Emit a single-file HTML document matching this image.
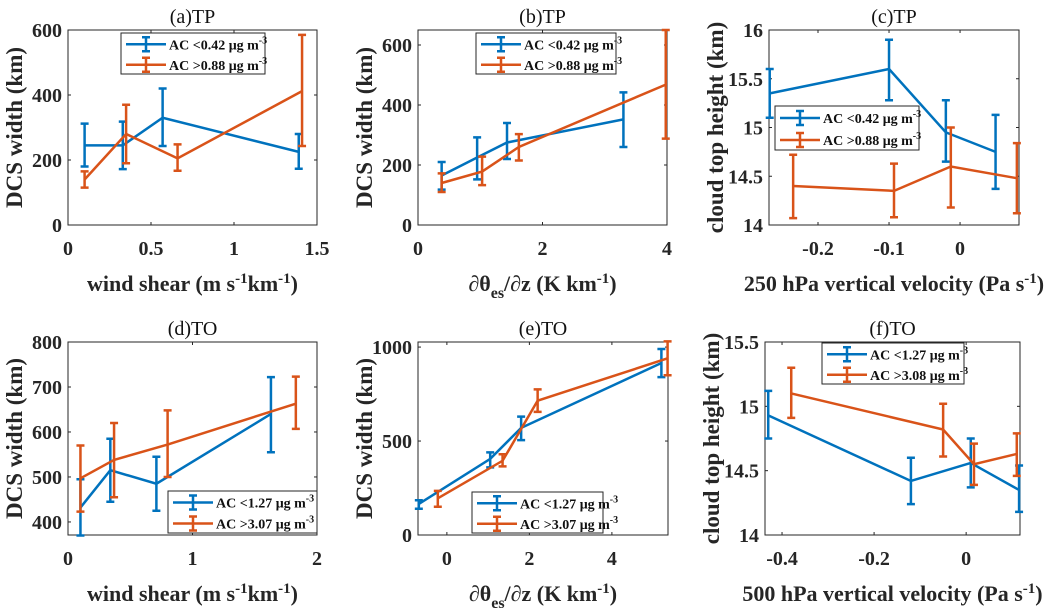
<!DOCTYPE html>
<html><head><meta charset="utf-8"><style>
body{margin:0;background:#fff;}
svg{display:block;}
text{font-family:"Liberation Serif","DejaVu Serif",serif;}
</style></head><body>
<svg id="fig" width="1056" height="616" viewBox="0 0 1056 616" font-family="Liberation Serif, serif"></svg>
<script>
// (a)
const aBx=[0.1,0.33,0.57,1.39], aBy=[245,245,330,225], aBlo=[180,172,243,173], aBhi=[312,318,420,280];
const aOx=[0.1,0.35,0.66,1.41], aOy=[140,280,205,412], aOlo=[115,190,167,243], aOhi=[165,370,248,585];
const aXt=[0,0.5,1,1.5], aYt=[0,200,400,600];
// (b)
const bBx=[0.38,0.95,1.43,3.3], bBy=[165,225,275,352], bBlo=[118,152,220,260], bBhi=[210,292,340,442];
const bOx=[0.38,1.03,1.62,3.98], bOy=[140,178,260,468], bOlo=[110,133,215,288], bOhi=[172,228,303,650];
const bXt=[0,2,4], bYt=[0,200,400,600];
// (c)
const cBx=[-0.268,-0.1,-0.02,0.05], cBy=[15.35,15.6,14.95,14.75], cBlo=[15.1,15.28,14.65,14.37], cBhi=[15.6,15.9,15.28,15.13];
const cOx=[-0.235,-0.093,-0.013,0.08], cOy=[14.4,14.35,14.6,14.48], cOlo=[14.07,14.08,14.18,14.12], cOhi=[14.72,14.63,15.0,14.84];
const cXt=[-0.2,-0.1,0], cYt=[14,14.5,15,15.5,16];
// (d)
const dBx=[0.1,0.34,0.71,1.63], dBy=[432,515,485,640], dBlo=[370,445,425,555], dBhi=[495,585,545,722];
const dOx=[0.1,0.37,0.8,1.83], dOy=[497,538,572,663], dOlo=[423,455,500,607], dOhi=[570,620,648,723];
const dXt=[0,1,2], dYt=[400,500,600,700,800];
// (e)
const eBx=[-0.68,1.05,1.8,5.2], eBy=[165,405,570,915], eBlo=[140,360,505,840], eBhi=[185,440,630,990];
const eOx=[-0.22,1.35,2.2,5.35], eOy=[195,395,715,940], eOlo=[150,365,655,850], eOhi=[235,430,775,1030];
const eXt=[0,2,4], eYt=[0,500,1000];
// (f)
const fBx=[-0.43,-0.12,0.01,0.115], fBy=[14.93,14.42,14.56,14.35], fBlo=[14.75,14.24,14.37,14.18], fBhi=[15.12,14.6,14.75,14.54];
const fOx=[-0.38,-0.05,0.017,0.11], fOy=[15.1,14.82,14.55,14.63], fOlo=[14.91,14.61,14.39,14.46], fOhi=[15.3,15.02,14.71,14.79];
const fXt=[-0.4,-0.2,0], fYt=[14,14.5,15,15.5];

const NS="http://www.w3.org/2000/svg";
const svg=document.getElementById('fig');
const BLUE="#0072BD", ORANGE="#D95319";
const FF='"Liberation Serif", serif';
function mk(tag,attrs,parent){const e=document.createElementNS(NS,tag);for(const k in attrs)e.setAttribute(k,attrs[k]);if(tag==='text'){e.setAttribute('font-family',FF);e.style.fontFamily=FF;}(parent||svg).appendChild(e);return e;}

function panel(id,L,R,T,B,xmin,xmax,ymin,ymax,xt,yt,title,ylab,xlabHTML,series,leg){
  const g=mk('g',{});
  
  
  const sx=v=>L+(v-xmin)/(xmax-xmin)*(R-L);
  const sy=v=>B-(v-ymin)/(ymax-ymin)*(B-T);
  const box=mk('rect',{x:L,y:T,width:R-L,height:B-T,fill:'none',stroke:'#262626','stroke-width':1},g);
  
  
  xt.forEach(v=>{const x=sx(v);
    mk('line',{x1:x,x2:x,y1:B,y2:B-3,stroke:'#262626'},g);mk('line',{x1:x,x2:x,y1:T,y2:T+3,stroke:'#262626'},g);
    const t=mk('text',{x:x,y:B+30,'text-anchor':'middle','font-size':20,'font-weight':'bold',fill:'#262626'},g);t.textContent=String(v);
    
    });
  yt.forEach(v=>{const y=sy(v);
    mk('line',{x1:L,x2:L+3,y1:y,y2:y,stroke:'#262626'},g);mk('line',{x1:R,x2:R-3,y1:y,y2:y,stroke:'#262626'},g);
    const t=mk('text',{x:L-6,y:y+7,'text-anchor':'end','font-size':20,'font-weight':'bold',fill:'#262626'},g);t.textContent=String(v);
    
    });
  const tt=mk('text',{x:(L+R)/2,y:T-7,'text-anchor':'middle','font-size':20,fill:'#111'},g);tt.textContent=title;
  
  
  const yl=mk('text',{x:0,y:0,'text-anchor':'middle','font-size':23,'font-weight':'bold',fill:'#262626',transform:`translate(${L-46},${(T+B)/2}) rotate(-90)`},g);yl.textContent=ylab;
  
  
  const xl=mk('text',{x:(L+R)/2,y:B+66,'text-anchor':'middle','font-size':22,'font-weight':'bold',fill:'#262626'},g);xl.innerHTML=xlabHTML;
  
  
  series.forEach(s=>{
    const sg=mk('g',{},g);
    
    
    const pts=s.x.map((v,i)=>sx(v)+','+sy(s.y[i])).join(' ');
    mk('polyline',{points:pts,fill:'none',stroke:s.c,'stroke-width':2.5},sg);
    s.x.forEach((v,i)=>{const x=sx(v),y1=sy(s.lo[i]),y2=sy(s.hi[i]);
      const eb=mk('path',{d:`M${x},${y1}V${y2}M${x-4},${y1}H${x+4}M${x-4},${y2}H${x+4}`,stroke:s.c,'stroke-width':2.5,fill:'none'},sg);
      
      });
  });
  const lg=mk('g',{},g);
  
  
  mk('rect',{x:leg[0],y:leg[1],width:leg[2]-leg[0],height:leg[3]-leg[1],fill:'#fff',stroke:'#262626','stroke-width':1},lg);
  const rh=(leg[3]-leg[1])/2;
  series.forEach((s,i)=>{const cy=leg[1]+rh*(i+0.5)+1;const x0=leg[0]+5;
    const e=mk('g',{},lg);
    
    
    mk('path',{d:`M${x0},${cy}H${x0+40}M${x0+20},${cy-7}V${cy+7}M${x0+16},${cy-7}H${x0+24}M${x0+16},${cy+7}H${x0+24}`,stroke:s.c,'stroke-width':2.5,fill:'none'},e);
    const t=mk('text',{x:x0+43,y:cy+5,'font-size':14,'font-weight':'bold',fill:'#111'},e);
    t.innerHTML=s.label+' μg m<tspan dy="-6" font-size="10">-3</tspan>';});
}
const wsLab='wind shear (m s<tspan dy="-8" font-size="15">-1</tspan><tspan dy="8">km</tspan><tspan dy="-8" font-size="15">-1</tspan><tspan dy="8">)</tspan>';
const thLab='∂θ<tspan dy="7" font-size="16">es</tspan><tspan dy="-7">/∂z (K km</tspan><tspan dy="-8" font-size="15">-1</tspan><tspan dy="8">)</tspan>';
const vvLab=p=>p+' hPa vertical velocity (Pa s<tspan dy="-8" font-size="15">-1</tspan><tspan dy="8">)</tspan>';

panel('a',68,317,30,225,0,1.5,0,600,aXt,aYt,'(a)TP','DCS width (km)',wsLab,
 [{name:'low-ac',x:aBx,y:aBy,lo:aBlo,hi:aBhi,c:BLUE,label:'AC &lt;0.42'},{name:'high-ac',x:aOx,y:aOy,lo:aOlo,hi:aOhi,c:ORANGE,label:'AC &gt;0.88'}],[121,33,265,74]);
panel('b',418,667,30,225,0,4,0,650,bXt,bYt,'(b)TP','DCS width (km)',thLab,
 [{name:'low-ac',x:bBx,y:bBy,lo:bBlo,hi:bBhi,c:BLUE,label:'AC &lt;0.42'},{name:'high-ac',x:bOx,y:bOy,lo:bOlo,hi:bOhi,c:ORANGE,label:'AC &gt;0.88'}],[476,33,616,74]);
panel('c',769,1019,30,225,-0.269,0.083,14,16,cXt,cYt,'(c)TP','cloud top height (km)',vvLab('250'),
 [{name:'low-ac',x:cBx,y:cBy,lo:cBlo,hi:cBhi,c:BLUE,label:'AC &lt;0.42'},{name:'high-ac',x:cOx,y:cOy,lo:cOlo,hi:cOhi,c:ORANGE,label:'AC &gt;0.88'}],[775,106,919,150]);
panel('d',68,317,342,535,0,2,371,800,dXt,dYt,'(d)TO','DCS width (km)',wsLab,
 [{name:'low-ac',x:dBx,y:dBy,lo:dBlo,hi:dBhi,c:BLUE,label:'AC &lt;1.27'},{name:'high-ac',x:dOx,y:dOy,lo:dOlo,hi:dOhi,c:ORANGE,label:'AC &gt;3.07'}],[168,491,317,533]);
panel('e',418,668,342,535,-0.70,5.36,0,1027,eXt,eYt,'(e)TO','DCS width (km)',thLab,
 [{name:'low-ac',x:eBx,y:eBy,lo:eBlo,hi:eBhi,c:BLUE,label:'AC &lt;1.27'},{name:'high-ac',x:eOx,y:eOy,lo:eOlo,hi:eOhi,c:ORANGE,label:'AC &gt;3.07'}],[472,492,603,533]);
panel('f',765,1020,342,535,-0.437,0.117,14,15.5,fXt,fYt,'(f)TO','cloud top height (km)',vvLab('500'),
 [{name:'low-ac',x:fBx,y:fBy,lo:fBlo,hi:fBhi,c:BLUE,label:'AC &lt;1.27'},{name:'high-ac',x:fOx,y:fOy,lo:fOlo,hi:fOhi,c:ORANGE,label:'AC &gt;3.08'}],[822,343,964,384]);
</script>
</body></html>
